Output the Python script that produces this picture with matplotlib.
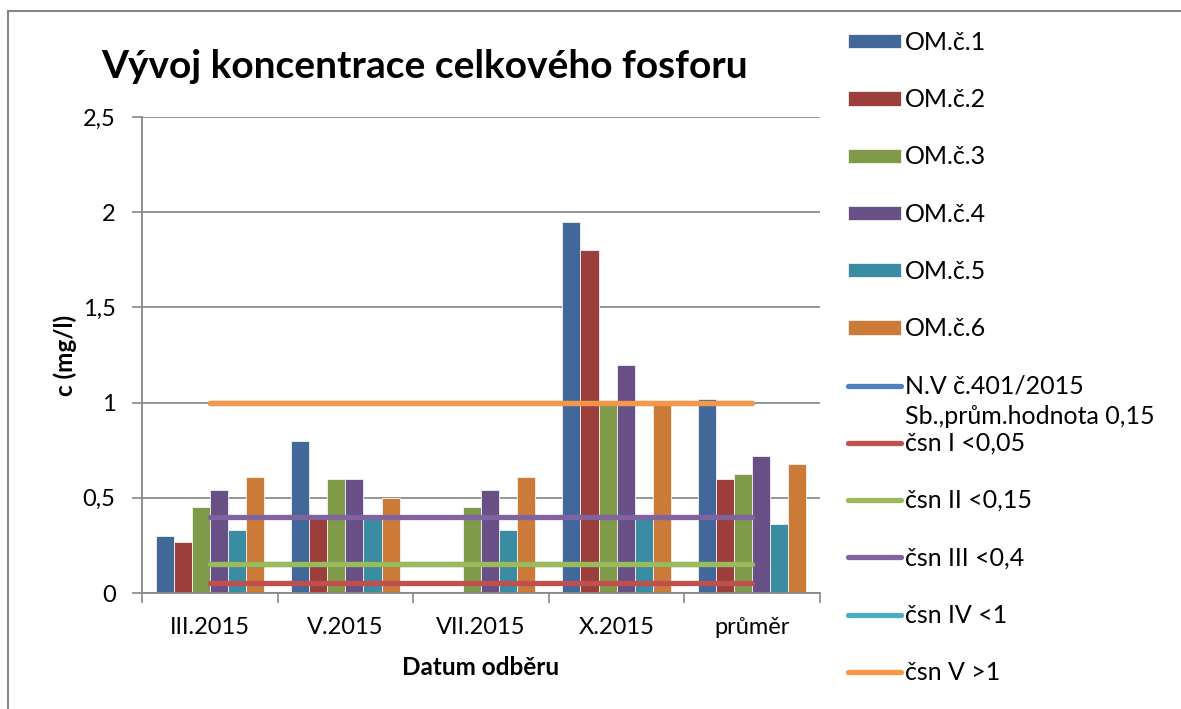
import numpy as np
import matplotlib
matplotlib.use("Agg")
import matplotlib.pyplot as plt
from matplotlib.patches import Rectangle

plt.rcParams['font.family'] = ['Lato', 'DejaVu Sans']

categories = ["III.2015", "V.2015", "VII.2015", "X.2015", "průměr"]
series_names = ["OM.č.1", "OM.č.2", "OM.č.3", "OM.č.4", "OM.č.5", "OM.č.6"]
om1 = [0.30, 0.80, np.nan, 1.95, 1.02]
om2 = [0.27, 0.40, np.nan, 1.80, 0.60]
om3 = [0.45, 0.60, 0.45, 1.00, 0.625]
om4 = [0.54, 0.60, 0.54, 1.20, 0.72]
om5 = [0.33, 0.40, 0.33, 0.40, 0.365]
om6 = [0.61, 0.50, 0.61, 1.00, 0.68]
bar_series = [om1, om2, om3, om4, om5, om6]
bar_colors = ["#416899", "#9C3E3C", "#7F9A48", "#684F86", "#3A8CA3", "#CC7A37"]

limit_names = ["N.V č.401/2015", "čsn I <0,05", "čsn II <0,15",
               "čsn III <0,4", "čsn IV <1", "čsn V >1"]
limit_name_extra = "Sb.,prům.hodnota 0,15"
limit_values = [0.15, 0.05, 0.15, 0.4, 1.0, 1.0]
limit_colors = ["#4F81BD", "#C0504D", "#9BBB59", "#8064A2", "#4BACC6", "#F79646"]

y_ticks = [0, 0.5, 1, 1.5, 2, 2.5]
y_tick_labels = ["0", "0,5", "1", "1,5", "2", "2,5"]

W, H = 1181, 709
fig = plt.figure(figsize=(W / 100, H / 100), dpi=100)
ax = fig.add_axes([142 / W, 1 - 593 / H, (820 - 142) / W, (593 - 117) / H])

x = np.arange(len(categories))
n = len(bar_series)
bw = 0.8 / n
handles = []
for i, (vals, col, name) in enumerate(zip(bar_series, bar_colors, series_names)):
    b = ax.bar(x + (i - (n - 1) / 2) * bw, vals, width=bw, color=col,
               edgecolor="#F2F2F2", linewidth=0.6, label=name, zorder=2)
    handles.append(b)

for val, col, name in zip(limit_values, limit_colors, limit_names):
    ln, = ax.plot(x, np.full(len(x), val), color=col, lw=3.8,
                  solid_capstyle='round', label=name, zorder=3)
    handles.append(ln)

ax.set_xlim(-0.5, len(categories) - 0.5)
ax.set_ylim(0, 2.5)
ax.set_yticks(y_ticks)
ax.set_yticklabels(y_tick_labels, fontsize=17, color="#000000")
ax.set_xticks(x)
ax.set_xticklabels(categories, fontsize=17)
ax.set_xticks(np.arange(-0.5, len(categories)), minor=True)
ax.tick_params(axis='x', which='major', length=0, pad=17)
ax.tick_params(axis='x', which='minor', length=7, width=1.2, color="#888888", direction='out')
ax.tick_params(axis='y', which='major', length=7, width=1.2, color="#888888", direction='out', pad=12)
ax.grid(axis='y', color="#8C8C8C", lw=1.3, zorder=0)
ax.set_axisbelow(True)
for s in ['top', 'right']:
    ax.spines[s].set_visible(False)
for s in ['left', 'bottom']:
    ax.spines[s].set_color("#888888")
    ax.spines[s].set_linewidth(1.3)

ax.set_xlabel("Datum odběru", fontsize=17.5, fontweight='bold', labelpad=13)
ax.set_ylabel("c (mg/l)", fontsize=17.5, fontweight='bold', labelpad=4)

fig.text(425 / W, 1 - 78 / H, "Vývoj koncentrace celkového fosforu", fontsize=28,
         fontweight='bold', ha='center', va='baseline')

leg = ax.legend(handles, series_names + limit_names, loc='upper left',
                bbox_to_anchor=(848 / W, 1 - 31 / H), bbox_transform=fig.transFigure,
                frameon=False, fontsize=18, handlelength=2.1, handleheight=0.5,
                handletextpad=0.18, labelspacing=1.37, borderpad=0, borderaxespad=0)

fig.patches.append(Rectangle((8 / W, -0.2), 1.5, 1.2 - 11 / H, transform=fig.transFigure,
                             fill=False, edgecolor="#868686", lw=1.5))

# second line of the N.V legend label, placed right under the first line
fig.canvas.draw()
nv_text = leg.get_texts()[len(series_names)]
bb = nv_text.get_window_extent()
fig.text(bb.x0 / W, (bb.y0 - 7) / H, limit_name_extra, fontsize=18,
         ha='left', va='top')

fig.savefig("out.png", dpi=100)
